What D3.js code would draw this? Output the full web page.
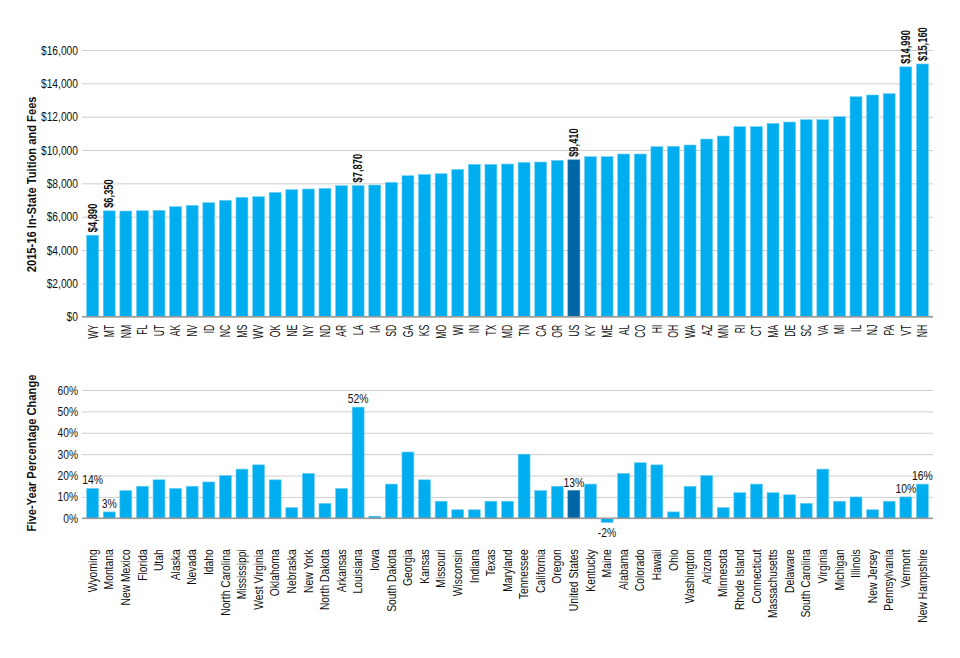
<!DOCTYPE html>
<html>
<head>
<meta charset="utf-8">
<script src="https://cdn.jsdelivr.net/npm/d3@7"></script>
<style>
  body { margin: 0; background: #fff; }
  text { font-family: "Liberation Sans", Arial, sans-serif; fill: #111; }
</style>
</head>
<body>
<script>
// Chart data
const abbrevs = ["WY","MT","NM","FL","UT","AK","NV","ID","NC","MS","WV","OK","NE","NY","ND","AR","LA","IA","SD","GA","KS","MO","WI","IN","TX","MD","TN","CA","OR","US","KY","ME","AL","CO","HI","OH","WA","AZ","MN","RI","CT","MA","DE","SC","VA","MI","IL","NJ","PA","VT","NH"];
const names = ["Wyoming","Montana","New Mexico","Florida","Utah","Alaska","Nevada","Idaho","North Carolina","Mississippi","West Virginia","Oklahoma","Nebraska","New York","North Dakota","Arkansas","Louisiana","Iowa","South Dakota","Georgia","Kansas","Missouri","Wisconsin","Indiana","Texas","Maryland","Tennessee","California","Oregon","United States","Kentucky","Maine","Alabama","Colorado","Hawaii","Ohio","Washington","Arizona","Minnesota","Rhode Island","Connecticut","Massachusetts","Delaware","South Carolina","Virginia","Michigan","Illinois","New Jersey","Pennsylvania","Vermont","New Hampshire"];
const tuition = [4890,6350,6340,6360,6380,6600,6680,6840,6980,7160,7200,7460,7620,7660,7700,7860,7870,7900,8060,8460,8540,8580,8840,9140,9140,9160,9260,9280,9380,9410,9600,9600,9760,9760,10200,10220,10300,10660,10840,11400,11400,11600,11680,11820,11820,12000,13200,13300,13380,14990,15160];
const change = [14,3,13,15,18,14,15,17,20,23,25,18,5,21,7,14,52,1,16,31,18,8,4,4,8,8,30,13,15,13,16,-2,21,26,25,3,15,20,5,12,16,12,11,7,23,8,10,4,8,10,16];
const tuitionTicks = [0,2000,4000,6000,8000,10000,12000,14000,16000];
const changeTicks = [0,10,20,30,40,50,60];
const tuitionLabelled = ["WY","MT","LA","US","VT","NH"];
const changeLabelled = ["WY","MT","LA","US","ME","VT","NH"];
const highlight = "US";

const width = 960, height = 658;
const plot = {left: 82, right: 933};
const top1 = {y0: 316.7, y1: 50};      // tuition panel: zero line / top line
const top2 = {y0: 518.3, y1: 390};     // change panel

const barColor = "#00aeef", usColor = "#0066a6";

// no condensed face installed, so squeeze text horizontally
const squeeze = 0.82;

const rows = abbrevs.map((a, i) => ({abbr: a, name: names[i], tuition: tuition[i], change: change[i]}));

const svg = d3.select("body").append("svg")
  .attr("width", width).attr("height", height);

const x = d3.scaleBand().domain(abbrevs).range([plot.left, plot.right]).padding(0.28);

function styleYAxis(g) {
  g.select(".domain").remove();
  g.selectAll(".tick line").attr("stroke", "#cfcfcf");
  g.selectAll(".tick text")
    .attr("x", -4 / squeeze).attr("transform", `scale(${squeeze},1)`)
    .style("font-size", "12.5px");
}

function styleXAxis(g, offset, size, k) {
  g.select(".domain").remove();
  g.selectAll(".tick text")
    .attr("transform", `rotate(-90) scale(${k},1)`)
    .attr("x", -offset / k).attr("y", 0).attr("dy", "0.35em")
    .style("text-anchor", "end").style("font-size", size);
}

// ---------- Tuition panel ----------
const y1 = d3.scaleLinear().domain([0, 16000]).range([top1.y0, top1.y1]);

const yAxis1 = d3.axisLeft(y1).tickValues(tuitionTicks)
  .tickSize(-(plot.right - plot.left)).tickPadding(4)
  .tickFormat(d => "$" + d3.format(",")(d));

svg.append("g").attr("transform", `translate(${plot.left},0)`).call(yAxis1).call(styleYAxis);

svg.append("g").selectAll("rect").data(rows).join("rect")
  .attr("x", d => x(d.abbr)).attr("width", x.bandwidth())
  .attr("y", d => y1(d.tuition)).attr("height", d => y1(0) - y1(d.tuition))
  .attr("fill", d => d.abbr === highlight ? usColor : barColor)
  .attr("stroke", d => d.abbr === highlight ? "#3f86b8" : "#6fd0f4").attr("stroke-width", 0.6);

svg.append("line").attr("x1", plot.left).attr("x2", plot.right)
  .attr("y1", y1(0)).attr("y2", y1(0)).attr("stroke", "#999").attr("stroke-width", 1.5);

svg.append("g").selectAll("text").data(rows.filter(d => tuitionLabelled.includes(d.abbr))).join("text")
  .attr("transform", d => `translate(${x(d.abbr) + x.bandwidth() / 2},${y1(d.tuition) - 3}) rotate(-90) scale(0.78,1)`)
  .attr("dy", "0.35em").style("font-size", "12px").style("font-weight", "bold")
  .text(d => "$" + d3.format(",")(d.tuition));

const xAxis1 = d3.axisBottom(x).tickSize(0);
svg.append("g").attr("transform", `translate(0,${top1.y0})`).call(xAxis1)
  .call(g => styleXAxis(g, 8, "14px", 0.62));

svg.append("text")
  .attr("transform", `translate(32,${(top1.y0 + top1.y1) / 2 + 1}) rotate(-90) scale(0.93,1)`)
  .attr("dy", "0.35em").style("text-anchor", "middle")
  .style("font-size", "12px").style("font-weight", "bold")
  .text("2015-16 In-State Tuition and Fees");

// ---------- Five-year change panel ----------
const y2 = d3.scaleLinear().domain([0, 60]).range([top2.y0, top2.y1]);

const yAxis2 = d3.axisLeft(y2).tickValues(changeTicks)
  .tickSize(-(plot.right - plot.left)).tickPadding(4)
  .tickFormat(d => d + "%");

svg.append("g").attr("transform", `translate(${plot.left},0)`).call(yAxis2).call(styleYAxis);

svg.append("g").selectAll("rect").data(rows).join("rect")
  .attr("x", d => x(d.abbr)).attr("width", x.bandwidth())
  .attr("y", d => y2(Math.max(0, d.change)))
  .attr("height", d => Math.abs(y2(d.change) - y2(0)))
  .attr("fill", d => d.abbr === highlight ? usColor : barColor)
  .attr("stroke", d => d.abbr === highlight ? "#3f86b8" : "#6fd0f4").attr("stroke-width", 0.6);

svg.append("line").attr("x1", plot.left).attr("x2", plot.right)
  .attr("y1", y2(0)).attr("y2", y2(0)).attr("stroke", "#999").attr("stroke-width", 1.5);

svg.append("g").selectAll("text").data(rows.filter(d => changeLabelled.includes(d.abbr))).join("text")
  .attr("transform", d => `translate(${x(d.abbr) + x.bandwidth() / 2},${d.change >= 0 ? y2(d.change) - 4 : y2(d.change) + 14}) scale(0.83,1)`)
  .style("text-anchor", "middle").style("font-size", "12.5px")
  .text(d => d.change + "%");

const xAxis2 = d3.axisBottom(x).tickSize(0).tickFormat((d, i) => names[i]);
svg.append("g").attr("transform", `translate(0,${top2.y0})`).call(xAxis2)
  .call(g => styleXAxis(g, 31, "12px", 0.86));

svg.append("text")
  .attr("transform", `translate(32,${453}) rotate(-90) scale(0.93,1)`)
  .attr("dy", "0.35em").style("text-anchor", "middle")
  .style("font-size", "12px").style("font-weight", "bold")
  .text("Five-Year Percentage Change");
</script>
</body>
</html>
